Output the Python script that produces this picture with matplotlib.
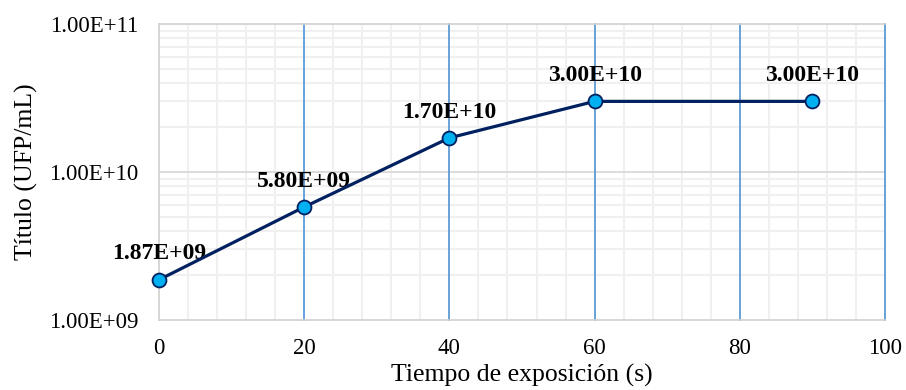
import matplotlib.pyplot as plt
from matplotlib.ticker import FixedLocator, MultipleLocator, LogLocator, NullFormatter

# datos
tiempo = [0, 20, 40, 60, 90]
titulo = [1.87e9, 5.80e9, 1.70e10, 3.00e10, 3.00e10]
etiquetas = ["1.87E+09", "5.80E+09", "1.70E+10", "3.00E+10", "3.00E+10"]
xticks = [0, 20, 40, 60, 80, 100]
yticks = [1e9, 1e10, 1e11]
ytick_labels = ["1.00E+09", "1.00E+10", "1.00E+11"]

plt.rcParams['font.family'] = ['Liberation Serif', 'DejaVu Serif']

fig = plt.figure(figsize=(9.06, 3.9), dpi=100)
ax = fig.add_axes([0.1755, 0.1795, 0.8013, 0.759])

ax.set_yscale('log')
ax.set_xlim(0, 100)
ax.set_ylim(1e9, 1e11)

# rejilla secundaria
ax.xaxis.set_major_locator(FixedLocator(xticks))
ax.xaxis.set_minor_locator(MultipleLocator(4))
ax.yaxis.set_major_locator(FixedLocator(yticks))
ax.yaxis.set_minor_locator(LogLocator(base=10, subs=range(2, 10)))
ax.yaxis.set_minor_formatter(NullFormatter())
ax.set_yticklabels(ytick_labels)

ax.grid(which='minor', axis='both', color='#f0f0f0', linewidth=1.5)
ax.set_axisbelow(True)

# rejilla principal encima de la secundaria
ax.axhline(1e10, color='#d9d9d9', linewidth=1.3, zorder=1)
for xv in xticks[1:]:
    ax.axvline(xv, color='#5b9bd5', linewidth=1.3, zorder=1.5, clip_on=False)

for s in ['left', 'bottom', 'top']:
    ax.spines[s].set_color('#d0d0d0')
    ax.spines[s].set_linewidth(1.2)
ax.spines['right'].set_visible(False)

ax.tick_params(which='both', length=0)
ax.tick_params(axis='x', labelsize=16.5, pad=13)
ax.tick_params(axis='y', labelsize=16.5, pad=15)

ax.plot(tiempo, titulo, '-o', color='#002060', linewidth=2.3,
        markersize=10, markerfacecolor='#00b0f0', markeredgecolor='#002060',
        markeredgewidth=1.3, zorder=5, clip_on=False)

for x, y, t in zip(tiempo, titulo, etiquetas):
    ax.annotate(t, (x, y), xytext=(0, 11), textcoords='offset points',
                ha='center', va='bottom', fontsize=17, fontweight='bold')

ax.set_xlabel('Tiempo de exposición (s)', fontsize=18.5, labelpad=3.5)
ax.set_ylabel('Título (UFP/mL)', fontsize=18.5, labelpad=8)

fig.savefig('out.png', dpi=100)
